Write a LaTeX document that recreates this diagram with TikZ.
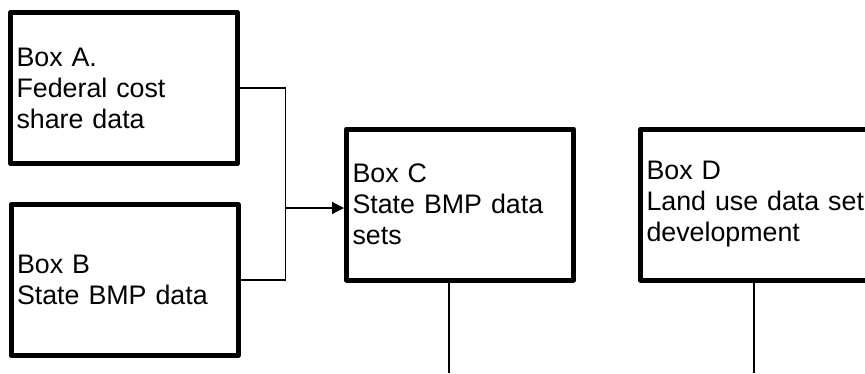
\documentclass[tikz,border=0pt]{standalone}
\usepackage{fontspec}
\setmainfont{Liberation Sans}
\usetikzlibrary{arrows.meta}
\begin{document}
\begin{tikzpicture}[x=1pt,y=-1pt,
    box/.style={draw,line width=5pt,line join=round,minimum width=227pt,minimum height=151pt,
      inner xsep=6pt,text width=215pt,align=left,font=\fontsize{26.8}{31}\selectfont},
    link/.style={line width=1.2pt}]
    \useasboundingbox (0,0) rectangle (865,373);
    \node[box] (v1) at (124,88) {Box A.\\Federal cost\\share data};
    \node[box] (v2) at (124.5,280) {Box B\\State BMP data};
    \node[box] (v3) at (460,204.5) {Box C\\State BMP data\\sets};
    \node[box] (v4) at (754,204.5) {Box D\\\mbox{Land use data set}\\development};
    \coordinate (v5) at (285.5,208);
    \coordinate (v6) at (449,373);
    \coordinate (v7) at (754,373);
    \draw[link]  (v1) -| (v5);
    \draw[link]  (v2) -| (v5);
    \draw[link,-{Triangle[length=12pt,width=12pt]}]  (v5) -- (v5 -| v3.west);
    \draw[link]  (v3.south -| v6) -- (v6);
    \draw[link]  (v4.south) -- (v7);
\end{tikzpicture}
\end{document}
